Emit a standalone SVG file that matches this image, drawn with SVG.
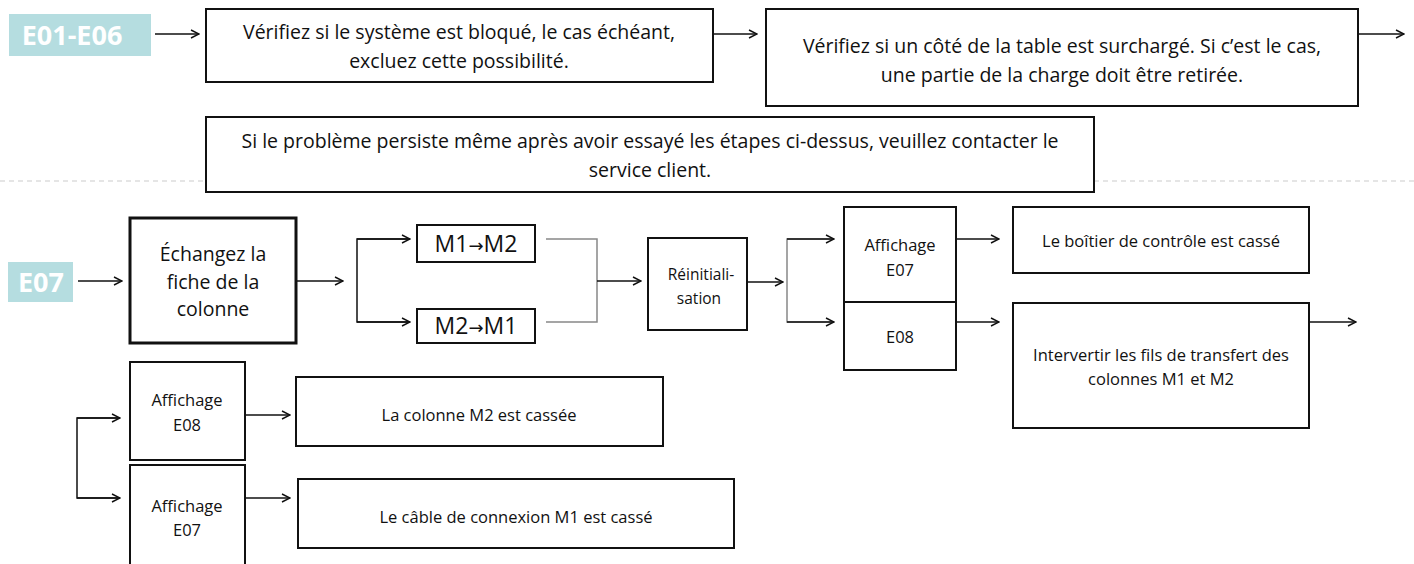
<svg xmlns="http://www.w3.org/2000/svg" width="1414" height="564" viewBox="0 0 1414 564">
<defs>
<marker id="ah" viewBox="0 0 10 10" refX="9" refY="5" markerWidth="10" markerHeight="10" markerUnits="userSpaceOnUse" orient="auto">
<path d="M1,1 L9,5 L1,9" fill="none" stroke="#111" stroke-width="1.4"/>
</marker>
<style>
.box{fill:#fff;stroke:#111;stroke-width:2}
.thick{stroke-width:3}
.tag{fill:#b5dde0}
.tagt{font-family:"Open Sans","Liberation Sans",sans-serif;font-weight:bold;fill:#fff;font-size:27px;text-anchor:middle}
.t{font-family:"Open Sans","Liberation Sans",sans-serif;fill:#111;text-anchor:middle}
.arr{font-family:"DejaVu Sans",sans-serif;font-size:18px}
.c{fill:none;stroke:#111;stroke-width:1.5}
.g{fill:none;stroke:#888;stroke-width:1.5}
.dash{stroke:#ccc;stroke-width:1.2;stroke-dasharray:5 4}
</style>
</defs>
<rect width="1414" height="564" fill="#fff"/>
<line class="dash" x1="0" y1="181" x2="206" y2="181"/>
<line class="dash" x1="1094" y1="181" x2="1414" y2="181"/>

<g id="connectors">
<line class="c" x1="155" y1="34" x2="199" y2="34" marker-end="url(#ah)"/>
<line class="c" x1="713" y1="34" x2="757" y2="34" marker-end="url(#ah)"/>
<line class="c" x1="1358" y1="34" x2="1404" y2="34" marker-end="url(#ah)"/>
<line class="c" x1="78" y1="281" x2="122" y2="281" marker-end="url(#ah)"/>
<line class="c" x1="296" y1="281" x2="343" y2="281" marker-end="url(#ah)"/>
<path class="c" d="M410,239 H357 V322 H410"/>
<line class="c" x1="357" y1="239" x2="410" y2="239" marker-end="url(#ah)"/>
<line class="c" x1="357" y1="322" x2="410" y2="322" marker-end="url(#ah)"/>
<path class="g" d="M546,239 H597 V322 H546"/>
<line class="c" x1="597" y1="281" x2="641" y2="281" marker-end="url(#ah)"/>
<line class="c" x1="747" y1="282" x2="783" y2="282" marker-end="url(#ah)"/>
<path class="g" d="M834,239 H787 V322 H834"/>
<line class="c" x1="787" y1="239" x2="834" y2="239" marker-end="url(#ah)"/>
<line class="c" x1="787" y1="322" x2="834" y2="322" marker-end="url(#ah)"/>
<line class="c" x1="956" y1="239" x2="999" y2="239" marker-end="url(#ah)"/>
<line class="c" x1="956" y1="322" x2="999" y2="322" marker-end="url(#ah)"/>
<line class="c" x1="1309" y1="322" x2="1356" y2="322" marker-end="url(#ah)"/>
<path class="c" d="M120,418 H77 V498 H120"/>
<line class="c" x1="77" y1="418" x2="120" y2="418" marker-end="url(#ah)"/>
<line class="c" x1="77" y1="498" x2="120" y2="498" marker-end="url(#ah)"/>
<line class="c" x1="245" y1="415" x2="290" y2="415" marker-end="url(#ah)"/>
<line class="c" x1="245" y1="498" x2="290" y2="498" marker-end="url(#ah)"/>
</g>

<g id="tag-e01">
<rect class="tag" x="9" y="14" width="142" height="42"/>
<text class="tagt" x="72" y="45">E01-E06</text>
</g>
<g id="box-bloque">
<rect class="box" x="206" y="9" width="507" height="73"/>
<text class="t" x="459" y="39" font-size="19.5">Vérifiez si le système est bloqué, le cas échéant,</text>
<text class="t" x="459" y="68" font-size="19.5">excluez cette possibilité.</text>
</g>
<g id="box-surcharge">
<rect class="box" x="766" y="9" width="592" height="97"/>
<text class="t" x="1062" y="53" font-size="19.5">Vérifiez si un côté de la table est surchargé. Si c’est le cas,</text>
<text class="t" x="1062" y="82" font-size="19.5">une partie de la charge doit être retirée.</text>
</g>
<g id="box-service">
<rect class="box" x="206" y="117" width="888" height="75"/>
<text class="t" x="650" y="148" font-size="19.5">Si le problème persiste même après avoir essayé les étapes ci-dessus, veuillez contacter le</text>
<text class="t" x="650" y="177" font-size="19.5">service client.</text>
</g>

<g id="tag-e07">
<rect class="tag" x="8" y="262" width="65" height="40"/>
<text class="tagt" x="41" y="292">E07</text>
</g>
<g id="box-echangez">
<rect class="box thick" x="130" y="218" width="166" height="125"/>
<text class="t" x="213" y="261" font-size="19.5">Échangez la</text>
<text class="t" x="213" y="289" font-size="19.5">fiche de la</text>
<text class="t" x="213" y="316" font-size="19.5">colonne</text>
</g>
<g id="box-m1m2">
<rect class="box" x="417" y="225" width="118" height="37" stroke-width="1.5"/>
<text class="t" x="476" y="252" font-size="23">M1<tspan class="arr">→</tspan>M2</text>
</g>
<g id="box-m2m1">
<rect class="box" x="417" y="309" width="118" height="34" stroke-width="1.5"/>
<text class="t" x="476" y="334" font-size="23">M2<tspan class="arr">→</tspan>M1</text>
</g>
<g id="box-reinit">
<rect class="box" x="648" y="238" width="99" height="92"/>
<text class="t" x="701" y="280" font-size="15.5">Réinitiali-</text>
<text class="t" x="699" y="304" font-size="15.5">sation</text>
</g>
<g id="box-aff-e07">
<rect class="box" x="844" y="207" width="112" height="95"/>
<text class="t" x="900" y="251" font-size="16.5">Affichage</text>
<text class="t" x="900" y="276" font-size="16.5">E07</text>
</g>
<g id="box-e08">
<rect class="box" x="844" y="302" width="112" height="68"/>
<text class="t" x="900" y="343" font-size="16.5">E08</text>
</g>
<g id="box-boitier">
<rect class="box" x="1013" y="207" width="296" height="66"/>
<text class="t" x="1161" y="247" font-size="16.5">Le boîtier de contrôle est cassé</text>
</g>
<g id="box-intervertir">
<rect class="box" x="1013" y="303" width="296" height="125"/>
<text class="t" x="1161" y="361" font-size="16.5">Intervertir les fils de transfert des</text>
<text class="t" x="1161" y="385" font-size="16.5">colonnes M1 et M2</text>
</g>

<g id="box-aff-e08b">
<rect class="box" x="130" y="362" width="115" height="98"/>
<text class="t" x="187" y="406" font-size="16.5">Affichage</text>
<text class="t" x="187" y="431" font-size="16.5">E08</text>
</g>
<g id="box-aff-e07b">
<rect class="box" x="130" y="465" width="115" height="104"/>
<text class="t" x="187" y="512" font-size="16.5">Affichage</text>
<text class="t" x="187" y="536" font-size="16.5">E07</text>
</g>
<g id="box-colonne-m2">
<rect class="box" x="296" y="377" width="367" height="69"/>
<text class="t" x="479" y="421" font-size="16.5">La colonne M2 est cassée</text>
</g>
<g id="box-cable-m1">
<rect class="box" x="298" y="479" width="436" height="69"/>
<text class="t" x="516" y="523" font-size="16.5">Le câble de connexion M1 est cassé</text>
</g>
</svg>
